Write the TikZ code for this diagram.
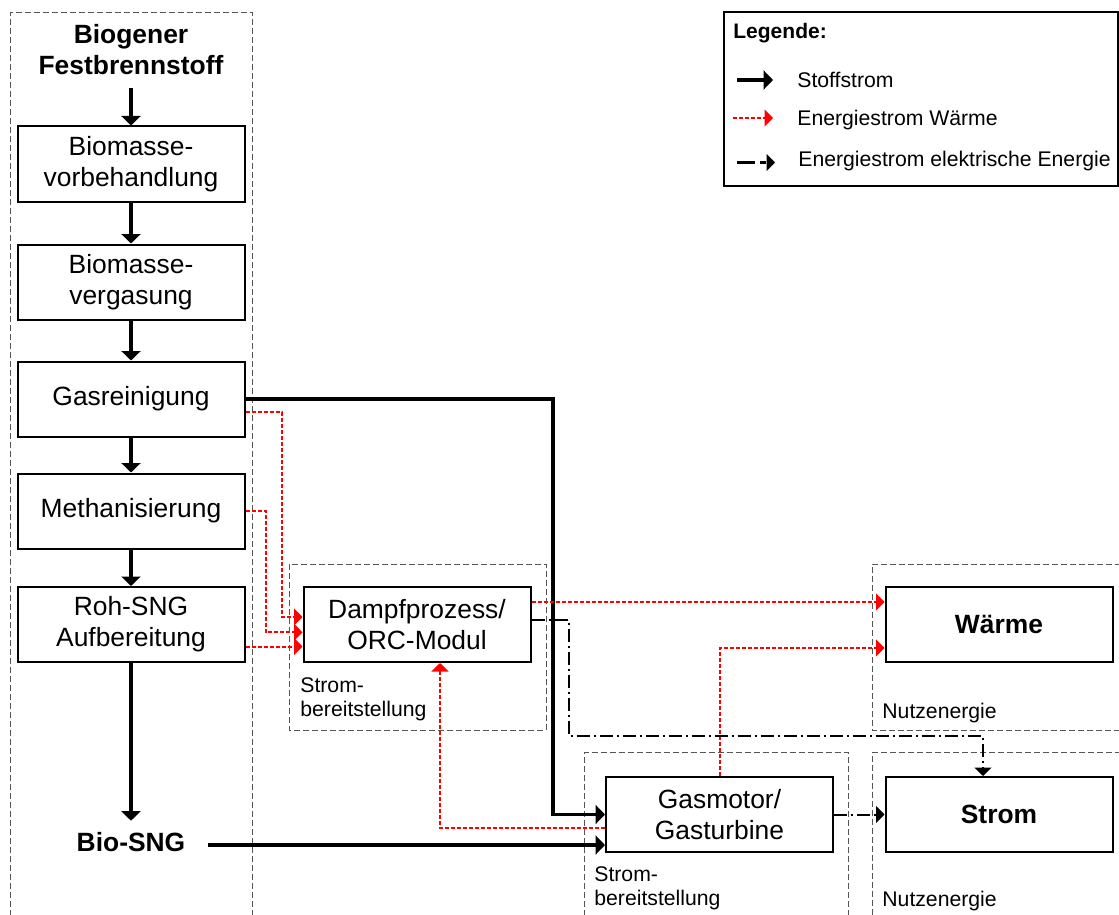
\documentclass[tikz,border=0pt]{standalone}
\usepackage{fontspec}
\setmainfont{Liberation Sans}
\usepackage{tikz}
\usetikzlibrary{positioning,arrows.meta}
\usepackage{xcolor}
\definecolor{rahmengrau}{RGB}{85,85,85}

\begin{document}
\begin{tikzpicture}[x=0.5pt, y=-0.5pt,
    box/.style={draw, line width=1pt, minimum width=113.5pt, minimum height=37.5pt, inner sep=2pt, align=center, font=\fontsize{13.2}{15.5}\selectfont},
    fett/.style={align=center, font=\fontsize{13.2}{15.5}\selectfont\bfseries},
    klein/.style={align=left, inner sep=0pt, font=\fontsize{10.6}{12}\selectfont},
    rahmen/.style={draw=rahmengrau, line width=0.5pt, dash pattern=on 3pt off 1.5pt},
    stoff/.style={line width=1.75pt, -{Triangle[length=4.75pt, width=9.5pt]}},
    waerme/.style={red, line width=1pt, dash pattern=on 2pt off 1pt, -{Triangle[length=4.25pt, width=8.5pt]}},
    elektr/.style={line width=1pt, dash pattern=on 6.5pt off 2pt on 1pt off 2pt, -{Triangle[length=4.25pt, width=8.5pt]}}]
    \useasboundingbox (0,0) rectangle (1119,915);

    % Rahmen
    \draw[rahmen] (10,925) -- (10,12.5) -- (252,12.5) -- (252,925);
    \draw[rahmen] (289,564) rectangle (546,730);
    \draw[rahmen] (1130,564) -- (872,564) -- (872,730) -- (1130,730);
    \draw[rahmen] (584,925) -- (584,752.5) -- (848,752.5) -- (848,925);
    \draw[rahmen] (1130,752.5) -- (872,752.5) -- (872,925);

    % Knoten
    \node[fett, inner sep=6pt] (brennstoff) at (131,50) {Biogener\\Festbrennstoff};
    \node[box] (vorbeh) at (131,164) {Biomasse-\\vorbehandlung};
    \node[box] (vergas) at (131,282) {Biomasse-\\vergasung};
    \node[box] (reinig) at (131,399) {Gasreinigung};
    \node[box] (methan) at (131,511) {Methanisierung};
    \node[box] (rohsng) at (131,624.5) {Roh-SNG\\Aufbereitung};
    \node[fett, inner xsep=11pt, inner ysep=5.6pt] (biosng) at (131,842) {Bio-SNG};
    \node[box] (dampf) at (417,624.5) {Dampfprozess/\\ORC-Modul};
    \node[box] (gasmotor) at (719.5,814.5) {Gasmotor/\\Gasturbine};
    \node[box, font=\fontsize{13.2}{15.5}\selectfont\bfseries] (waerme) at (999,624) {Wärme};
    \node[box, font=\fontsize{13.2}{15.5}\selectfont\bfseries] (strom) at (999,814.5) {Strom};

    \node[klein, anchor=north west] (dampftext) at (300,677.5) {Strom-\\bereitstellung};
    \node[klein, anchor=north west] (gasmotortext) at (594,866.5) {Strom-\\bereitstellung};
    \node[klein, anchor=base west] (waermetext) at (882,718) {Nutzenergie};
    \node[klein, anchor=base west] (stromtext) at (882,906) {Nutzenergie};

    % Stoffstrom
    \draw[stoff] (brennstoff) -- (vorbeh);
    \draw[stoff] (vorbeh) -- (vergas);
    \draw[stoff] (vergas) -- (reinig);
    \draw[stoff] (reinig) -- (methan);
    \draw[stoff] (methan) -- (rohsng);
    \draw[stoff] (rohsng) -- (biosng);
    \draw[stoff] (reinig.east) -| ([xshift=-26pt]gasmotor.west) -- (gasmotor.west);
    \draw[stoff] ([yshift=-1.5pt]biosng.east) -- ([yshift=-1.5pt]biosng.east -| gasmotor.west);

    % Waerme
    \draw[waerme] ([yshift=-6.5pt]reinig.east) -| ([xshift=-10.5pt,yshift=3.75pt]dampf.west) -- ([yshift=3.75pt]dampf.west);
    \draw[waerme] (methan.east) -| ([xshift=-18.5pt,yshift=-3.9pt]dampf.west) -- ([yshift=-3.9pt]dampf.west);
    \draw[waerme] ([yshift=-11pt]rohsng.east) -- ([yshift=-11pt]dampf.west);
    \draw[waerme] ([yshift=11.25pt]dampf.east) -- ([yshift=11.25pt]dampf.east -| waerme.west);
    \draw[waerme] (gasmotor.north) |- ([yshift=-12pt]waerme.west);
    \draw[waerme] ([yshift=-6.9pt]gasmotor.west) -| ([xshift=11.5pt]dampf.south);

    % Strom
    \coordinate (knick) at (569,736);
    \draw[elektr] ([yshift=2.25pt]dampf.east) -| (knick) -| ([xshift=-8pt]strom.north);
    \draw[elektr] (gasmotor.east) -- (strom.west);

    % Legende
    \draw[line width=0.75pt] (724,12) rectangle (1118,186);
    \node[anchor=base west, inner sep=0pt, font=\fontsize{10.5}{12}\selectfont\bfseries] (legende) at (733,39) {Legende:};
    \coordinate (leg1a) at (737,80);
    \coordinate (leg1b) at (773,80);
    \coordinate (leg2a) at (733,118);
    \coordinate (leg2b) at (773,118);
    \coordinate (leg3a) at (737,162.5);
    \coordinate (leg3b) at (775,162.5);
    \draw[stoff] (leg1a) -- (leg1b);
    \draw[waerme] (leg2a) -- (leg2b);
    \draw[elektr, dash pattern=on 9pt off 2.5pt on 3pt off 1pt] (leg3a) -- (leg3b);
    \node[klein, anchor=base west] (leg1) at (797,87.3) {Stoffstrom};
    \node[klein, anchor=base west] (leg2) at (797,126) {Energiestrom Wärme};
    \node[klein, anchor=base west] (leg3) at (798,166.5) {Energiestrom elektrische Energie};

\end{tikzpicture}
\end{document}
